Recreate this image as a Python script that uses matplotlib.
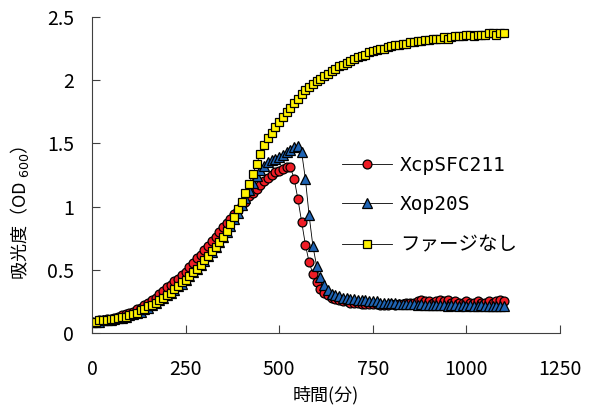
import matplotlib
matplotlib.use("Agg")
import matplotlib.pyplot as plt

plt.rcParams['font.family'] = ['Noto Sans CJK JP', 'DejaVu Sans']

# sampling times (min)
minutes = [
    0, 10, 20, 30, 40, 50, 60, 70, 80, 90,
    100, 110, 120, 130, 140, 150, 160, 170, 180, 190,
    200, 210, 220, 230, 240, 250, 260, 270, 280, 290,
    300, 310, 320, 330, 340, 350, 360, 370, 380, 390,
    400, 410, 420, 430, 440, 450, 460, 470, 480, 490,
    500, 510, 520, 530, 540, 550, 560, 570, 580, 590,
    600, 610, 620, 630, 640, 650, 660, 670, 680, 690,
    700, 710, 720, 730, 740, 750, 760, 770, 780, 790,
    800, 810, 820, 830, 840, 850, 860, 870, 880, 890,
    900, 910, 920, 930, 940, 950, 960, 970, 980, 990,
    1000, 1010, 1020, 1030, 1040, 1050, 1060, 1070, 1080, 1090,
    1100,
]

od_xcp = [
    0.09, 0.09, 0.10, 0.10, 0.11, 0.11, 0.12, 0.13, 0.14, 0.15,
    0.16, 0.17, 0.19, 0.20, 0.22, 0.24, 0.26, 0.28, 0.31, 0.33,
    0.36, 0.38, 0.41, 0.43, 0.46, 0.48, 0.52, 0.55, 0.59, 0.62,
    0.66, 0.69, 0.73, 0.76, 0.80, 0.84, 0.87, 0.90, 0.94, 0.97,
    1.01, 1.04, 1.08, 1.11, 1.14, 1.17, 1.20, 1.23, 1.25, 1.27,
    1.28, 1.30, 1.31, 1.31, 1.22, 1.06, 0.88, 0.70, 0.56, 0.47,
    0.40, 0.35, 0.32, 0.30, 0.28, 0.27, 0.26, 0.25, 0.25, 0.24,
    0.24, 0.24, 0.23, 0.23, 0.23, 0.23, 0.23, 0.22, 0.22, 0.22,
    0.23, 0.22, 0.23, 0.23, 0.24, 0.24, 0.24, 0.25, 0.26, 0.25,
    0.25, 0.24, 0.25, 0.26, 0.25, 0.26, 0.24, 0.25, 0.24, 0.24,
    0.25, 0.24, 0.24, 0.25, 0.24, 0.24, 0.25, 0.24, 0.25, 0.26,
    0.25,
]

od_xop = [
    0.09, 0.09, 0.09, 0.10, 0.10, 0.10, 0.11, 0.12, 0.12, 0.13,
    0.14, 0.15, 0.16, 0.17, 0.19, 0.20, 0.22, 0.24, 0.26, 0.28,
    0.30, 0.32, 0.34, 0.37, 0.39, 0.42, 0.45, 0.48, 0.51, 0.54,
    0.57, 0.61, 0.64, 0.68, 0.72, 0.76, 0.80, 0.85, 0.90, 0.95,
    1.01, 1.07, 1.13, 1.19, 1.24, 1.29, 1.32, 1.35, 1.37, 1.38,
    1.39, 1.41, 1.43, 1.45, 1.47, 1.48, 1.43, 1.22, 0.93, 0.69,
    0.53, 0.44, 0.38, 0.34, 0.31, 0.30, 0.29, 0.28, 0.28, 0.27,
    0.27, 0.26, 0.26, 0.26, 0.25, 0.25, 0.25, 0.24, 0.24, 0.24,
    0.24, 0.24, 0.23, 0.23, 0.23, 0.23, 0.23, 0.22, 0.23, 0.22,
    0.22, 0.22, 0.22, 0.22, 0.22, 0.21, 0.22, 0.22, 0.21, 0.22,
    0.21, 0.22, 0.21, 0.21, 0.22, 0.21, 0.21, 0.21, 0.21, 0.21,
    0.21,
]

od_nophage = [
    0.09, 0.09, 0.10, 0.10, 0.10, 0.11, 0.11, 0.12, 0.13, 0.13,
    0.14, 0.15, 0.16, 0.18, 0.19, 0.21, 0.22, 0.24, 0.26, 0.28,
    0.30, 0.32, 0.35, 0.37, 0.40, 0.42, 0.45, 0.48, 0.51, 0.54,
    0.58, 0.61, 0.65, 0.68, 0.72, 0.76, 0.81, 0.86, 0.92, 0.98,
    1.04, 1.11, 1.18, 1.26, 1.34, 1.42, 1.49, 1.54, 1.58, 1.63,
    1.67, 1.71, 1.75, 1.78, 1.82, 1.85, 1.89, 1.92, 1.95, 1.97,
    1.99, 2.01, 2.03, 2.05, 2.07, 2.09, 2.11, 2.12, 2.14, 2.15,
    2.17, 2.18, 2.19, 2.20, 2.22, 2.23, 2.24, 2.25, 2.25, 2.26,
    2.27, 2.28, 2.28, 2.29, 2.29, 2.30, 2.30, 2.31, 2.31, 2.32,
    2.32, 2.33, 2.33, 2.33, 2.34, 2.33, 2.34, 2.35, 2.35, 2.35,
    2.36, 2.36, 2.35, 2.36, 2.36, 2.36, 2.37, 2.37, 2.36, 2.37,
    2.37,
]

labels = ['XcpSFC211', 'Xop20S', 'ファージなし']
xticks = [0, 250, 500, 750, 1000, 1250]
yticks = [0, 0.5, 1, 1.5, 2, 2.5]
ytick_labels = ['0', '0.5', '1', '1.5', '2', '2.5']

fig = plt.figure(figsize=(5.98, 4.15), dpi=100)
ax = fig.add_axes([0.1538, 0.1976, 0.7826, 0.7614])

style = dict(color='black', linewidth=0.6, markeredgecolor='black',
             markeredgewidth=0.9)
ax.plot(minutes, od_xcp, marker='o', markersize=6.4,
        markerfacecolor='#ee1c25', label=labels[0], **style)
ax.plot(minutes, od_xop, marker='^', markersize=7.2,
        markerfacecolor='#1f64b4', label=labels[1], **style)
ax.plot(minutes, od_nophage, marker='s', markersize=6.3,
        markerfacecolor='#fff200', label=labels[2], **style)

ax.set_xlim(0, 1250)
ax.set_ylim(0, 2.5)
ax.set_xticks(xticks)
ax.set_yticks(yticks)
ax.set_yticklabels(ytick_labels)
ax.tick_params(direction='in', length=6, width=0.8, colors='#404040',
               labelcolor='black', labelsize=14)
ax.tick_params(axis='x', pad=19)
ax.tick_params(axis='y', pad=13)
for side in ['top', 'right']:
    ax.spines[side].set_visible(False)
for side in ['left', 'bottom']:
    ax.spines[side].set_color('#404040')
    ax.spines[side].set_linewidth(0.8)

ax.set_xlabel('時間(分)', fontsize=13, labelpad=4)
ax.set_ylabel('吸光度（OD $_{600}$）', fontsize=13)
ax.yaxis.set_label_coords(-0.13, 0.38)

leg = ax.legend(loc='upper left', bbox_to_anchor=(0.534, 0.561), frameon=False,
                fontsize=14, handlelength=2.57, handletextpad=0.41,
                labelspacing=1.05, borderpad=0, borderaxespad=0)
for t in leg.get_texts()[:2]:
    t.set_fontfamily(['DejaVu Sans Mono'])

fig.savefig('out.png', dpi=100)
